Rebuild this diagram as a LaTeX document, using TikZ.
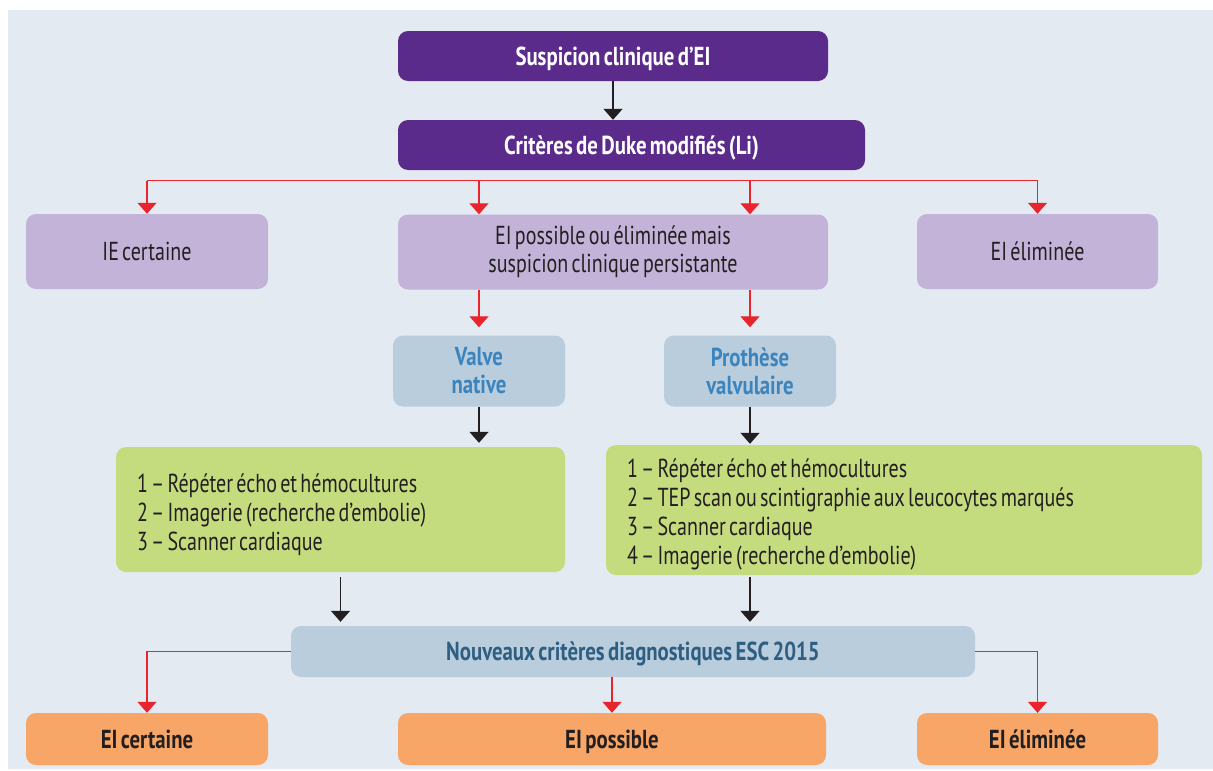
\documentclass[tikz,border=0pt]{standalone}
\usepackage{fontspec}
\setmainfont[FakeStretch=0.77, UprightFeatures={WordSpace=0.6}, BoldFeatures={FakeStretch=0.8, WordSpace=0.65}]{PT Sans}
\usetikzlibrary{arrows.meta}
\definecolor{fond}{HTML}{E3EAF2}
\definecolor{pourpre}{HTML}{5B2B8C}
\definecolor{lavande}{HTML}{C3B3D9}
\definecolor{gris}{HTML}{B9CDDC}
\definecolor{bleu}{HTML}{3C84BE}
\definecolor{bleufonce}{HTML}{2E5E82}
\definecolor{vert}{HTML}{C5DC7E}
\definecolor{abricot}{HTML}{F7A668}
\definecolor{encre}{HTML}{231F20}
\definecolor{rouge}{HTML}{E8242C}

\begin{document}
\begin{tikzpicture}[x=1pt,y=1pt,yscale=-1,xscale=1,
  boite/.style={rounded corners=10pt, inner sep=0pt, text=encre, font=\fontsize{26}{28}\selectfont},
  ligne/.style={text height=20pt, text depth=2pt},
  titre/.style={boite, ligne, fill=pourpre, text=white, font=\fontsize{26}{28}\selectfont\bfseries, minimum height=50pt},
  issue/.style={boite, fill=lavande, minimum height=75pt, align=center},
  valve/.style={boite, fill=gris, text=bleu, font=\fontsize{26}{28}\selectfont\bfseries, minimum width=172pt, minimum height=71pt, align=center},
  liste/.style={boite, fill=vert, align=flush left, inner xsep=21pt, font=\fontsize{26}{29}\selectfont},
  critere/.style={boite, ligne, fill=gris, text=bleufonce, font=\fontsize{26}{28}\selectfont\bfseries, minimum height=51pt},
  verdict/.style={boite, ligne, fill=abricot, font=\fontsize{26}{28}\selectfont\bfseries, minimum height=52pt},
  fleche/.style={line width=1.5pt, draw=encre, -{Triangle[width=19pt,length=11pt]}},
  filrouge/.style={line width=1.3pt, draw=rouge},
  flecherouge/.style={filrouge, -{Triangle[width=19pt,length=11pt]}}]
\useasboundingbox (0,0) rectangle (1213,771);
\fill[fond] (8,10) rectangle (1213,769);

% Text Node
\node[titre, minimum width=430pt] (susp) at (613,56) {Suspicion clinique d’EI};
% Text Node
\node[titre, minimum width=467pt] (duke) at (631.5,145) {Critères de Duke modifiés (Li)};
% Text Node
\node[issue, ligne, minimum width=242pt] (iecert) at (147,251.5) {IE certaine};
% Text Node
\node[issue, minimum width=430pt] (poss) at (613,252) {EI possible ou éliminée mais\\suspicion clinique persistante};
% Text Node
\node[issue, ligne, minimum width=241pt] (ieelim) at (1037.5,251.5) {EI éliminée};
% Text Node
\node[valve] (native) at (479,371) {Valve\\native};
% Text Node
\node[valve] (prot) at (750,371) {Prothèse\\valvulaire};
% Text Node
\node[liste, text width=407pt, minimum height=125pt] (vnlist) at (340.5,509.5) {\rule{0pt}{30pt}1 – Répéter écho et hémocultures\\2 – Imagerie (recherche d’embolie)\\3 – Scanner cardiaque};
% Text Node
\node[liste, text width=554pt, minimum height=130pt] (pvlist) at (904,510) {\rule{0pt}{28pt}1 – Répéter écho et hémocultures\\2 – TEP scan ou scintigraphie aux leucocytes marqués\\3 – Scanner cardiaque\\4 – Imagerie (recherche d’embolie)};
% Text Node
\node[critere, minimum width=684pt] (esc) at (633,651.5) {Nouveaux critères diagnostiques ESC 2015};
% Text Node
\node[verdict, minimum width=242pt] (ecert) at (147,739) {EI certaine};
% Text Node
\node[verdict, minimum width=428pt] (eposs) at (612,739) {EI possible};
% Text Node
\node[verdict, minimum width=241pt] (eelim) at (1037.5,739) {EI éliminée};

%Straight Lines
\coordinate (bus) at (0,180.5);
\draw[fleche] (susp) -- (susp |- duke.north);
\draw[filrouge] (iecert.north |- bus) -- (ieelim.north |- bus);
\draw[flecherouge] (iecert.north |- bus) -- (iecert.north);
\draw[flecherouge] (native |- bus) -- (native |- poss.north);
\draw[flecherouge] (prot |- bus) -- (prot |- poss.north);
\draw[flecherouge] (ieelim.north |- bus) -- (ieelim.north);
\draw[flecherouge, shorten >=8pt] (native |- poss.south) -- (native.north);
\draw[flecherouge, shorten >=8pt] (prot |- poss.south) -- (prot.north);
\draw[fleche, shorten >=4pt] (native.south) -- (native |- vnlist.north);
\draw[fleche, shorten >=1pt] (prot.south) -- (prot |- pvlist.north);
\draw[fleche, shorten <=5pt, shorten >=4pt] (vnlist.south) -- (vnlist.south |- esc.north);
\draw[fleche, shorten <=2pt, shorten >=4pt] (prot |- pvlist.south) -- (prot |- esc.north);
\draw[flecherouge] (esc.west) -| (ecert.north);
\draw[flecherouge] (esc.south -| eposs) -- (eposs.north);
\draw[flecherouge] (esc.east) -| (eelim.north);

\end{tikzpicture}
\end{document}
